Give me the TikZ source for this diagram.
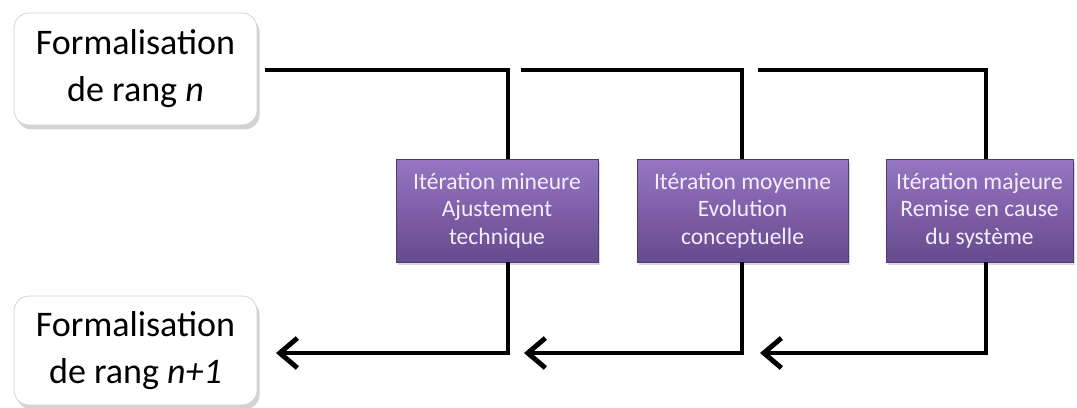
\documentclass[tikz,border=0pt]{standalone}
\usepackage{fontspec}
\setmainfont{Carlito}
\usetikzlibrary{arrows.meta,shadows}
\definecolor{iterTop}{RGB}{150,118,194}
\definecolor{iterBot}{RGB}{103,73,141}
\definecolor{iterText}{RGB}{245,238,255}
\tikzset{
  formal/.style={draw=black!18, fill=white, rounded corners=8.5pt, align=center,
    minimum width=4.86cm, font=\fontsize{20.5}{26.7}\selectfont,
    drop shadow={shadow xshift=1.5pt, shadow yshift=-2.5pt, opacity=0.35}},
  iter/.style={top color=iterTop, bottom color=iterBot, draw=iterBot!80!black,
    align=center, minimum height=2.06cm, text=iterText,
    font=\fontsize{13.4}{15.6}\selectfont,
    drop shadow={shadow xshift=1pt, shadow yshift=-1.5pt, opacity=0.3}},
  link/.style={line width=2.8pt}
}
\begin{document}
\begin{tikzpicture}[>={Straight Barb[length=10pt,width=17pt]}, x=0.02cm, y=0.02cm]
\useasboundingbox (0,0) rectangle (1077,407);
\node[formal, minimum height=2.24cm] (rangN) at (135.5,338) {Formalisation\\de rang \textit{n}};
\node[formal, minimum height=2.18cm] (rangN1) at (135.5,56.5) {Formalisation\\de rang \textit{n+1}};
\node[iter, minimum width=4.04cm] (mineure) at (497,196.5) {Itération mineure\\Ajustement\\technique};
\node[iter, minimum width=4.22cm] (moyenne) at (742.5,196.5) {Itération moyenne\\Evolution\\conceptuelle};
\node[iter, minimum width=3.74cm] (majeure) at (979.5,196.5) {Itération majeure\\Remise en cause\\du système};
% free ends and vertical runs
\coordinate (a1) at (265,337);
\coordinate (a2) at (521,337);
\coordinate (a3) at (758,337);
\coordinate (b1) at (276,54);
\coordinate (b2) at (524,54);
\coordinate (b3) at (760,54);
\coordinate (v1) at (508,0);
\coordinate (v2) at (742,0);
\coordinate (v3) at (986,0);
\draw[link] (a1) -| (v1 |- mineure.north);
\draw[link] (a2) -| (v2 |- moyenne.north);
\draw[link] (a3) -| (v3 |- majeure.north);
\draw[link, ->] (v1 |- mineure.south) |- (b1);
\draw[link, ->] (v2 |- moyenne.south) |- (b2);
\draw[link, ->] (v3 |- majeure.south) |- (b3);
\end{tikzpicture}
\end{document}
